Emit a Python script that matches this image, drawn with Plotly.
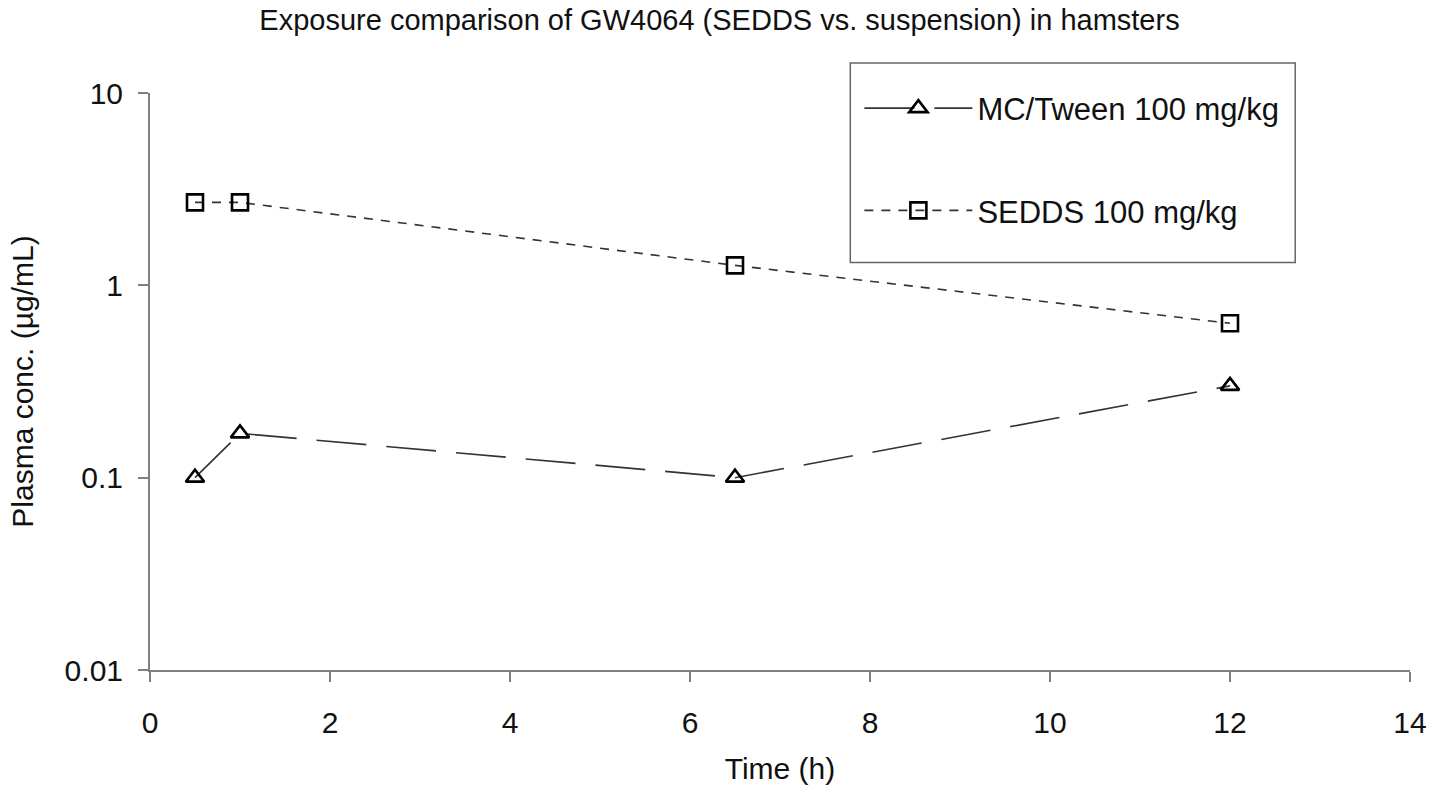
import plotly.graph_objects as go

time_h = [0.5, 1, 6.5, 12]
mc_tween = [0.10, 0.17, 0.10, 0.30]
sedds = [2.7, 2.7, 1.27, 0.635]

y_ticks = [0.01, 0.1, 1, 10]
y_ticktext = ["0.01", "0.1", "1", "10"]
x_ticks = [0, 2, 4, 6, 8, 10, 12, 14]

FONT = "Liberation Sans, Arial, sans-serif"

fig = go.Figure()
fig.add_trace(go.Scatter(
    x=time_h, y=mc_tween, mode="lines+markers", name="MC/Tween 100 mg/kg",
    legendgroup="a",
    line=dict(color="#333333", width=1.6, dash="50px,20px"),
    marker=dict(symbol="triangle-up-open", size=16, color="black", line=dict(width=2.6, color="black")),
))
fig.add_trace(go.Scatter(
    x=time_h, y=sedds, mode="lines+markers", name="SEDDS 100 mg/kg",
    legendgroup="b",
    line=dict(color="#333333", width=1.6, dash="9px,8px"),
    marker=dict(symbol="square-open", size=16, color="black", line=dict(width=2.6, color="black")),
))

fig.update_layout(
    width=1439, height=792,
    margin=dict(l=150, r=26, t=93, b=120),
    paper_bgcolor="white", plot_bgcolor="white",
    font=dict(family=FONT, size=30, color="#111111"),
    title=dict(text="Exposure comparison of GW4064 (SEDDS vs. suspension) in hamsters",
               x=0.5, xanchor="center", y=0.975, yanchor="middle",
               font=dict(family=FONT, size=29, color="#111111")),
    showlegend=True,
    legend=dict(x=0.563, y=1.02, xanchor="left", yanchor="top",
                bgcolor="rgba(0,0,0,0)", borderwidth=0,
                traceorder="grouped", tracegroupgap=59, itemwidth=108,
                font=dict(family=FONT, size=31, color="#111111")),
    shapes=[dict(type="rect", xref="paper", yref="paper",
                 x0=0.5558, x1=0.9089, y0=0.7064, y1=1.0518,
                 line=dict(color="#666666", width=1.5), fillcolor="rgba(0,0,0,0)", layer="below")],
)
fig.update_xaxes(
    range=[0, 14], tickvals=x_ticks, showgrid=False, zeroline=False,
    showline=True, linecolor="#808080", linewidth=2,
    ticks="outside", ticklen=10, tickcolor="#808080", tickwidth=1.5,
    ticklabelstandoff=15,
    tickfont=dict(size=30), title=dict(text="Time (h)", font=dict(size=30), standoff=20),
)
fig.update_yaxes(
    type="log", range=[-2, 1], tickvals=y_ticks, ticktext=y_ticktext, showgrid=False, zeroline=False,
    showline=True, linecolor="#808080", linewidth=2,
    ticks="outside", ticklen=10, tickcolor="#808080", tickwidth=1.5,
    ticklabelstandoff=9,
    tickfont=dict(size=30), title=dict(text="Plasma conc. (µg/mL)", font=dict(size=30), standoff=22),
)

fig.write_html("out.html")
